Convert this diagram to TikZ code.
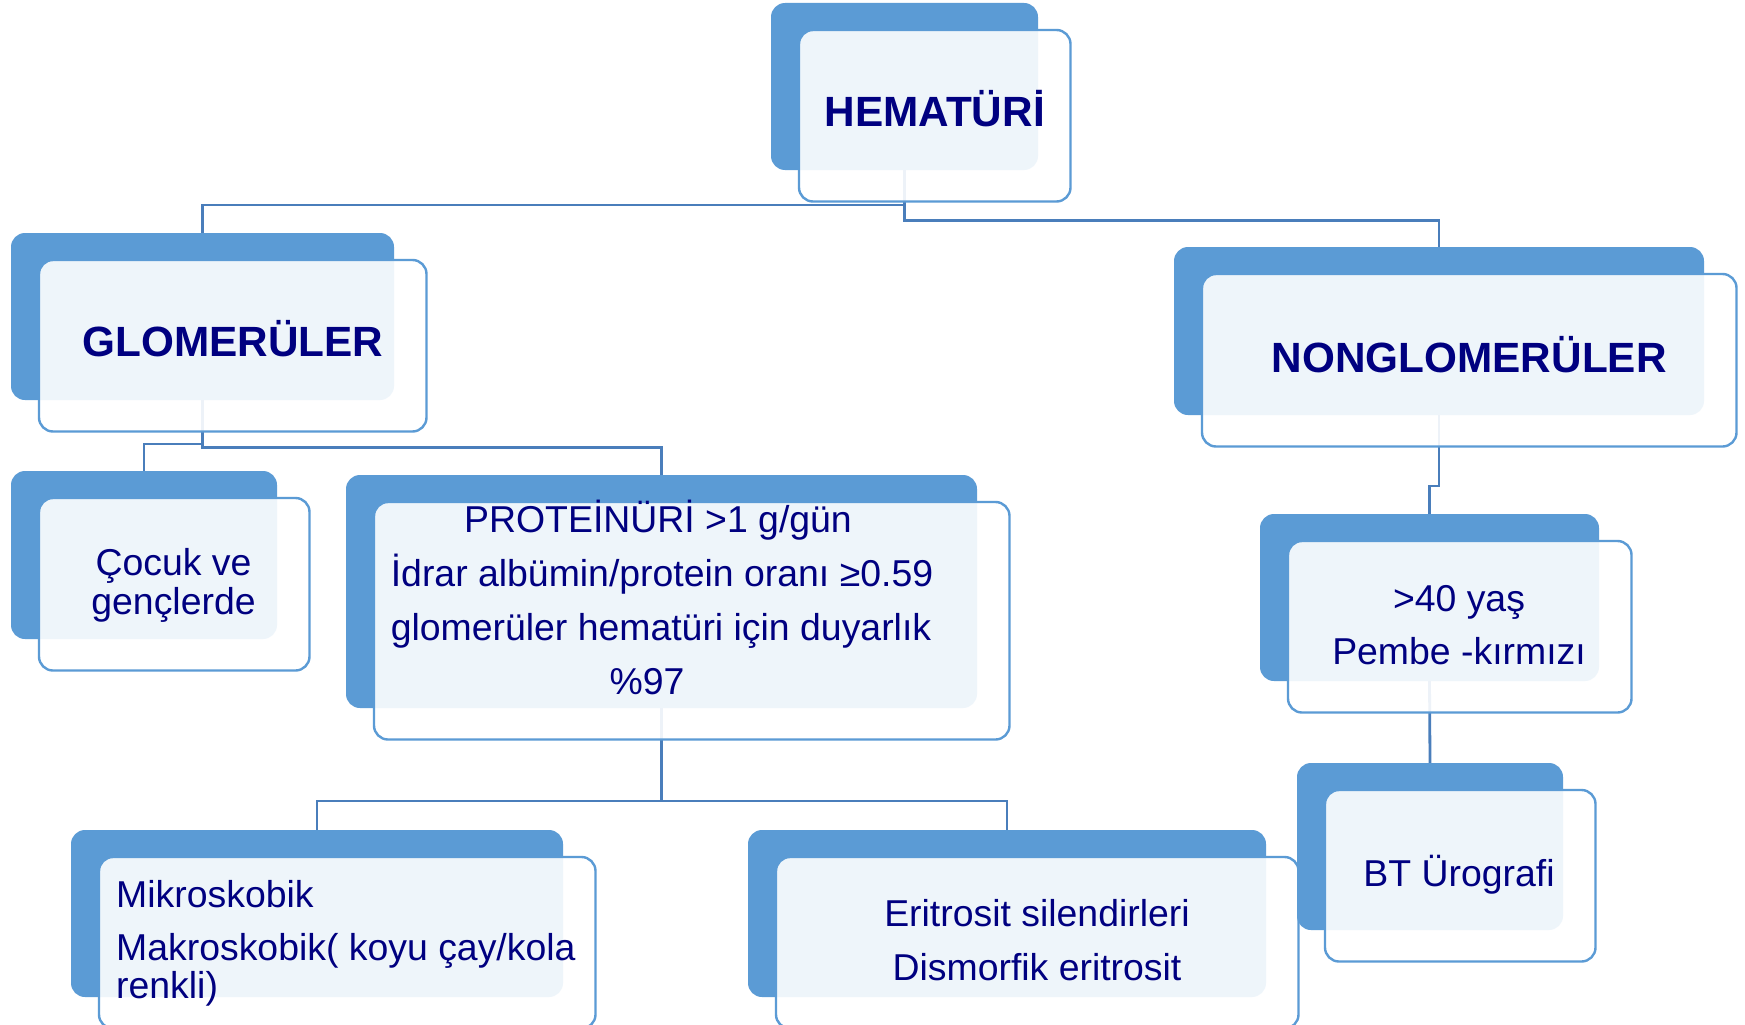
\documentclass[tikz,border=0pt]{standalone}
\usepackage{fontspec}
\setmainfont{Liberation Sans}
\usetikzlibrary{calc}
\pgfdeclarelayer{bg}
\pgfsetlayers{bg,main}
\definecolor{boxblue}{RGB}{91,155,213}
\definecolor{edgeblue}{RGB}{91,155,213}
\definecolor{linkblue}{RGB}{74,126,187}
\definecolor{navytext}{RGB}{0,0,128}
\tikzset{
 backbox/.style={fill=boxblue, draw=none, rounded corners=14pt, inner sep=0pt, outer sep=0pt, anchor=north west},
 frontbox/.style={fill=white, fill opacity=0.9, draw=edgeblue, line width=2.4pt, rounded corners=14pt, inner sep=0pt, outer sep=0pt, anchor=north west},
 link/.style={draw=linkblue, line width=2.8pt},
 boldlbl/.style={text=navytext, font=\fontsize{42.3}{50}\selectfont\bfseries, anchor=base, inner sep=0pt},
 lbl/.style={text=navytext, font=\fontsize{37.4}{44}\selectfont, anchor=base, inner sep=0pt},
 lbll/.style={lbl, anchor=base west},
}
\newcommand\twobox[5]{%
 \node[backbox, minimum width=#4pt, minimum height=#5pt] (#1) at (#2,#3) {};
 \node[frontbox, minimum width=#4pt+4.5pt, minimum height=#5pt+4.5pt] (#1f) at ([shift={(28pt,-27pt)}]#1.north west) {};
}
\begin{document}
\begin{tikzpicture}[x=1pt,y=-1pt]
\useasboundingbox (0,0) rectangle (1745,1025);
\begin{pgfonlayer}{bg}
\fill[white] (0,0) rectangle (1745,1025);
\end{pgfonlayer}
\twobox{HEM}{771}{3}{267}{167}
\twobox{GLOM}{11}{233}{383}{167}
\twobox{NON}{1174}{247}{530}{168}
\twobox{COC}{11}{471}{266}{168}
\twobox{PROT}{346}{475}{631}{233}
\twobox{OLD}{1260}{514}{339}{167}
\twobox{MIK}{71}{830}{492}{167}
\twobox{ERI}{748}{830}{518}{167}
\twobox{BT}{1297}{763}{266}{167}

\node[boldlbl] (tHEM) at ([yshift=-11pt]HEMf.center) {HEMATÜRİ};
\node[boldlbl] (tGLOM) at ([yshift=-11pt]GLOMf.center) {GLOMERÜLER};
\node[boldlbl] (tNON) at ([yshift=-12pt]NONf.center) {NONGLOMERÜLER};

\node[lbl] (tCOC1) at (173.5,575) {Çocuk ve};
\node[lbl] (tCOC2) at (173.5,614) {gençlerde};

\node[lbl] (tPROT1) at (658,532) {PROTEİNÜRİ >1 g/gün};
\node[lbl] (tPROT2) at (662,586) {İdrar albümin/protein oranı ≥0.59};
\node[lbl] (tPROT3) at (661,640) {glomerüler hematüri için duyarlık};
\node[lbl] (tPROT4) at (647,694) {\%97};

\node[lbl] (tOLD1) at (1459,611) {>40 yaş};
\node[lbl] (tOLD2) at (1459,664) {Pembe -kırmızı};
\node[lbl] (tBT) at (1459,886) {BT Ürografi};

\node[lbll] (tMIK1) at (116,907) {Mikroskobik};
\node[lbll] (tMIK2) at (116,960) {Makroskobik( koyu çay/kola};
\node[lbll] (tMIK3) at (116,998) {renkli)};

\node[lbl] (tERI1) at (1037,926) {Eritrosit silendirleri};
\node[lbl] (tERI2) at (1037,980) {Dismorfik eritrosit};

\begin{pgfonlayer}{bg}
\draw[link] (HEM.south) -- ++(0,-35pt) -| (GLOM.north);
\draw[link] (HEM.south) -- ++(0,-50.5pt) -| (NON.north);
\draw[link] (GLOM.south) -- ++(0,-44pt) -| (COC.north);
\draw[link] (GLOM.south) -- ++(0,-47.5pt) -| (PROT.north);
\draw[link] (NON.south) -- ++(0,-71pt) -| (OLD.north);
\draw[link] (OLD.south) -- (BT.north);
\draw[link] (PROT.south) -- ++(0,-93pt) -| (MIK.north);
\draw[link] (PROT.south) -- ++(0,-93pt) -| (ERI.north);
\end{pgfonlayer}
\end{tikzpicture}
\end{document}
